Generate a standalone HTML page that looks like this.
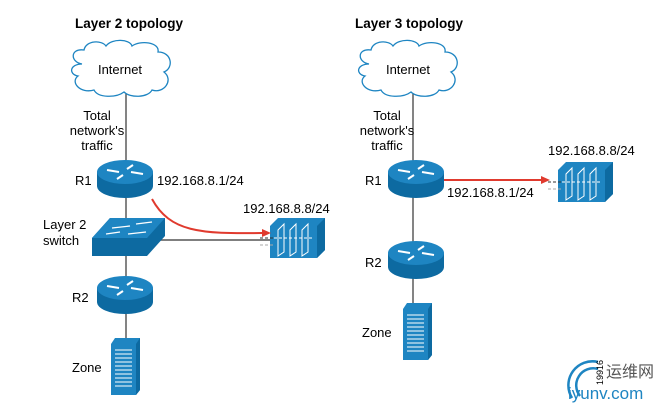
<!DOCTYPE html>
<html><head><meta charset="utf-8"><style>
html,body{margin:0;padding:0;background:#fff;}
svg{display:block;font-family:"Liberation Sans","Noto Sans CJK SC",sans-serif;}
</style></head><body>
<svg width="663" height="407" viewBox="0 0 663 407" xmlns="http://www.w3.org/2000/svg">
<defs>
<g id="router">
  <path d="M-28,-6 L-28,8 A28,12 0 0 0 28,8 L28,-6 Z" fill="#0d6aa1"/>
  <ellipse cx="0" cy="-6" rx="28" ry="12" fill="#1e85c2"/>
  <g stroke="#fff" stroke-width="2" fill="#fff">
    <line x1="-18" y1="-8" x2="-6" y2="-6"/><line x1="18" y1="-4" x2="6" y2="-6"/>
    <line x1="-8" y1="1" x2="-2" y2="-3"/><line x1="8" y1="-13" x2="2" y2="-9"/>
  </g>
</g>
<g id="server">
  <path d="M0,6 L4,0 L29,0 L29,52 L25,57 L0,57 Z" fill="#1e85c2"/>
  <path d="M25,6 L29,0 L29,52 L25,57 Z" fill="#0d6aa1"/>
  <g stroke="#fff" stroke-width="1">
    <line x1="4" y1="12" x2="21" y2="12"/><line x1="4" y1="16" x2="21" y2="16"/>
    <line x1="4" y1="20" x2="21" y2="20"/><line x1="4" y1="24" x2="21" y2="24"/>
    <line x1="4" y1="28" x2="21" y2="28"/><line x1="4" y1="32" x2="21" y2="32"/>
    <line x1="4" y1="36" x2="21" y2="36"/><line x1="4" y1="40" x2="21" y2="40"/>
    <line x1="4" y1="44" x2="21" y2="44"/><line x1="4" y1="48" x2="21" y2="48"/>
  </g>
</g>
<g id="appl">
  <path d="M0,8 L8,0 L55,0 L55,32 L47,40 L0,40 Z" fill="#1e85c2"/>
  <path d="M47,8 L55,0 L55,32 L47,40 Z" fill="#0d6aa1"/>
  <g stroke="#fff" stroke-width="1" fill="none">
    <path d="M8,12 L14,6 L14,34 L8,38 Z"/><path d="M20,12 L26,6 L26,34 L20,38 Z"/><path d="M32,12 L38,6 L38,34 L32,38 Z"/>
    <line x1="4" y1="20" x2="44" y2="20" stroke-dasharray="3,2"/>
  </g>
  <line x1="-10" y1="20" x2="4" y2="20" stroke="#333" stroke-dasharray="3,2"/>
  <line x1="-10" y1="27" x2="4" y2="27" stroke="#aaa" stroke-dasharray="3,2"/>
</g>
<path id="cloud" d="M14,22 C2,20 2,6 16,8 C18,-2 34,-2 38,4 C44,-4 62,-3 64,4 C72,-2 92,0 90,10 C104,10 106,26 96,30 C106,38 96,52 84,48 C80,56 62,56 56,50 C48,56 30,56 26,48 C12,52 2,40 10,34 C0,32 2,22 14,22 Z" fill="#fff" stroke="#1e85c2" stroke-width="1.3"/>
</defs>

<!-- LEFT -->
<text x="75" y="28" font-size="13.5" font-weight="bold">Layer 2 topology</text>
<line x1="126" y1="93" x2="126" y2="395" stroke="#333" stroke-width="1.2"/>
<line x1="160" y1="240" x2="272" y2="240" stroke="#555" stroke-width="1.5"/>
<use href="#cloud" x="68" y="42"/>
<text x="120" y="74" font-size="13" text-anchor="middle">Internet</text>
<g font-size="13" text-anchor="middle"><text x="97" y="120">Total</text><text x="97" y="135">network's</text><text x="97" y="150">traffic</text></g>
<use href="#router" x="125" y="178"/>
<text x="75" y="185" font-size="13">R1</text>
<text x="157" y="185" font-size="13">192.168.8.1/24</text>
<!-- switch -->
<path d="M92,238 L110,218 L165,218 L165,236 L147,256 L92,256 Z" fill="#0d6aa1"/>
<path d="M92,238 L110,218 L165,218 L147,238 Z" fill="#1e85c2"/>
<g stroke="#fff" stroke-width="1.3"><line x1="112" y1="228" x2="130" y2="226"/><line x1="128" y1="234" x2="146" y2="232"/><line x1="106" y1="234" x2="120" y2="232"/><line x1="136" y1="224" x2="152" y2="222"/></g>
<text x="43" y="229" font-size="13">Layer 2</text><text x="43" y="245" font-size="13">switch</text>
<use href="#appl" x="270" y="218"/>
<text x="243" y="213" font-size="13">192.168.8.8/24</text>
<path d="M152,199 C170,232 200,234 262,233" fill="none" stroke="#e03a2e" stroke-width="2"/>
<path d="M262,229 L271,233 L262,237 Z" fill="#e03a2e"/>
<use href="#router" x="125" y="294"/>
<text x="72" y="302" font-size="13">R2</text>
<use href="#server" x="111" y="338"/>
<text x="72" y="372" font-size="13">Zone</text>

<!-- RIGHT -->
<text x="355" y="28" font-size="13.5" font-weight="bold">Layer 3 topology</text>
<line x1="413" y1="93" x2="413" y2="305" stroke="#333" stroke-width="1.2"/>
<use href="#cloud" x="355" y="42"/>
<text x="408" y="74" font-size="13" text-anchor="middle">Internet</text>
<g font-size="13" text-anchor="middle"><text x="387" y="120">Total</text><text x="387" y="135">network's</text><text x="387" y="150">traffic</text></g>
<use href="#router" x="416" y="178"/>
<text x="365" y="185" font-size="13">R1</text>
<line x1="444" y1="180" x2="543" y2="180" stroke="#e03a2e" stroke-width="2"/>
<path d="M541,176 L550,180 L541,184 Z" fill="#e03a2e"/>
<text x="447" y="197" font-size="13">192.168.8.1/24</text>
<use href="#appl" x="558" y="162"/>
<text x="548" y="155" font-size="13">192.168.8.8/24</text>
<use href="#router" x="416" y="259"/>
<text x="365" y="267" font-size="13">R2</text>
<use href="#server" x="403" y="303"/>
<text x="362" y="337" font-size="13">Zone</text>

<!-- watermark -->
<g fill="none" stroke="#1e85c2" stroke-width="2.5">
<path d="M572,398 A24,24 0 0 1 598,362"/><path d="M580,396 A17,17 0 0 1 598,369"/>
</g>
<text x="600" y="382" font-size="9" transform="rotate(-90 603 382)">19916</text>
<text x="606" y="377" font-size="16" fill="#555">运维网</text>
<text x="568" y="399" font-size="17" fill="#1e85c2">iyunv.com</text>
</svg>
</body></html>
